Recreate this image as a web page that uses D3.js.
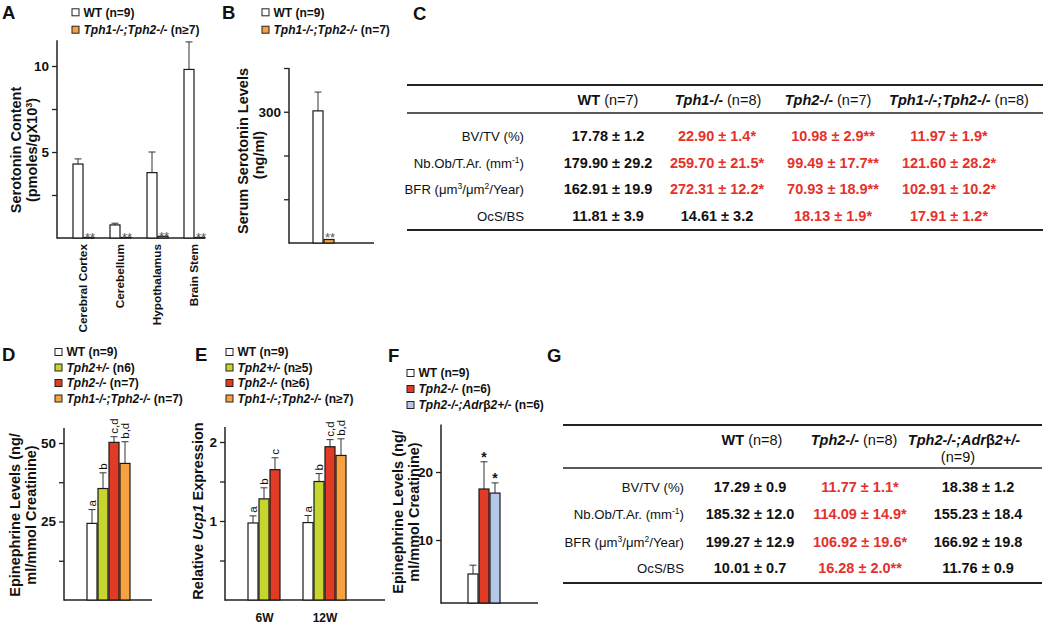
<!DOCTYPE html>
<html><head><meta charset="utf-8">
<script src="https://cdn.jsdelivr.net/npm/d3@7"></script>
<style>
body{margin:0;background:#fff}
svg{display:block}
text{font-family:"Liberation Sans",Arial,Helvetica,sans-serif;fill:#111}
</style>
</head><body>
<svg id="c" width="1050" height="631"></svg>
<script>
// ---------------- DATA ----------------
// Panel A
const regionsA = ["Cerebral Cortex","Cerebellum","Hypothalamus","Brain Stem"];
const seriesA = ["WT","Tph1-/-;Tph2-/-"];
const nA = ["(n=9)","(n≥7)"];
const serotoninWT = [4.3, 0.76, 3.8, 9.8];
const serotoninWTErr = [0.3, 0.1, 1.2, 1.6];
const serotoninKO = [0.03, 0.03, 0.1, 0.03];
const starsA = ["**","**","**","**"];
const ticksA = [2.5, 5, 7.5, 10];
const tickLabelsA = [5, 10];
// Panel B
const seriesB = ["WT","Tph1-/-;Tph2-/-"];
const nB = ["(n=9)","(n=7)"];
const serumValues = [302, 8];
const serumErr = [43, 0];
const starsB = ["","**"];
const ticksB = [100, 200, 300, 400];
const tickLabelsB = [300];
// Panel C table
const rowLabels = ["BV/TV (%)", "Nb.Ob/T.Ar. (mm{-1})", "BFR (μm{3}/μm{2}/Year)", "OcS/BS"];
const genotypesC = ["WT","Tph1-/-","Tph2-/-","Tph1-/-;Tph2-/-"];
const nC = ["(n=7)","(n=8)","(n=7)","(n=8)"];
const valuesC_WT   = ["17.78 ± 1.2","179.90 ± 29.2","162.91 ± 19.9","11.81 ± 3.9"];
const valuesC_Tph1 = ["22.90 ± 1.4*","259.70 ± 21.5*","272.31 ± 12.2*","14.61 ± 3.2"];
const valuesC_Tph2 = ["10.98 ± 2.9**","99.49 ± 17.7**","70.93 ± 18.9**","18.13 ± 1.9*"];
const valuesC_DKO  = ["11.97 ± 1.9*","121.60 ± 28.2*","102.91 ± 10.2*","17.91 ± 1.2*"];
// Panel D
const genotypesD = ["WT","Tph2+/-","Tph2-/-","Tph1-/-;Tph2-/-"];
const nD = ["(n=9)","(n6)","(n=7)","(n=7)"];
const epinephrineD = [24.4, 35.5, 50.2, 43.5];
const epinephrineDErr = [4.4, 5.0, 1.8, 6.9];
const lettersD = ["a","b","c,d","b,d"];
const ticksD = [12.5, 25, 37.5, 50];
const tickLabelsD = [25, 50];
// Panel E
const agesE = ["6W","12W"];
const genotypesE = ["WT","Tph2+/-","Tph2-/-","Tph1-/-;Tph2-/-"];
const nE = ["(n=9)","(n≥5)","(n≥6)","(n≥7)"];
const ucp1_6W = [0.975, 1.28, 1.65];
const ucp1_6WErr = [0.09, 0.14, 0.15];
const letters6W = ["a","b","c"];
const ucp1_12W = [0.98, 1.50, 1.94, 1.83];
const ucp1_12WErr = [0.09, 0.10, 0.09, 0.21];
const letters12W = ["a","b","c,d","b,d"];
const ticksE = [0.5, 1, 1.5, 2];
const tickLabelsE = [1, 2];
// Panel F
const genotypesF = ["WT","Tph2-/-","Tph2-/-;Adrβ2+/-"];
const nF = ["(n=9)","(n=6)","(n=6)"];
const epinephrineF = [5.0, 17.5, 16.9];
const epinephrineFErr = [1.3, 4.0, 1.5];
const starsF = ["","*","*"];
const ticksF = [10, 20];
const tickLabelsF = [10, 20];
// Panel G table
const genotypesG = ["WT","Tph2-/-","Tph2-/-;Adrβ2+/-"];
const nG = ["(n=8)","(n=8)","(n=9)"];
const valuesG_WT   = ["17.29 ± 0.9","185.32 ± 12.0","199.27 ± 12.9","10.01 ± 0.7"];
const valuesG_Tph2 = ["11.77 ± 1.1*","114.09 ± 14.9*","106.92 ± 19.6*","16.28 ± 2.0**"];
const valuesG_Adr  = ["18.38 ± 1.2","155.23 ± 18.4","166.92 ± 19.8","11.76 ± 0.9"];

// ---------------- STYLE ----------------
const colorOf = {
  "WT":"#ffffff",
  "Tph2+/-":"#c6d62f",
  "Tph2-/-":"#e13b25",
  "Tph1-/-;Tph2-/-":"#f6a241",
  "Tph2-/-;Adrβ2+/-":"#b3c8ea"
};
const RED_TXT = "#e5312b";
const FONT = '"Liberation Sans", Arial, Helvetica, sans-serif';
const svg = d3.select("#c");

function genoSpans(t, name, italic) {
  name.split(/(β)/).forEach(part => {
    if (!part) return;
    t.append("tspan").attr("font-style", (italic && part !== "β") ? "italic" : "normal").text(part);
  });
}
function panelLetter(txt, x, y) {
  svg.append("text").attr("x", x).attr("y", y).attr("font-size", 18.5).attr("font-weight", "bold").text(txt);
}
function legend(x, y0, step, genos, ns) {
  genos.forEach((g, i) => {
    const cy = y0 + i * step;
    svg.append("rect").attr("x", x).attr("y", cy - 3.5).attr("width", 7).attr("height", 7)
      .attr("fill", colorOf[g]).attr("stroke", "#222").attr("stroke-width", 1);
    const t = svg.append("text").attr("x", x + 11.5).attr("y", cy + 4.3).attr("font-size", 12).attr("font-weight", "bold");
    genoSpans(t, g, g !== "WT");
    t.append("tspan").attr("font-style", "normal").text(" " + ns[i]);
  });
}
function yAxis(x, y, topVal, base, ticks, labeled, xEnd) {
  const g = svg.append("g").attr("transform", `translate(${x},0)`).attr("font-family", FONT);
  g.call(d3.axisLeft(y).tickValues(ticks).tickSize(5).tickPadding(3)
    .tickFormat(d => labeled.includes(d) ? d3.format("d")(d) : ""));
  g.select(".domain").remove();
  g.selectAll(".tick line").attr("stroke", "#222").attr("stroke-width", 1.3);
  g.selectAll(".tick text").attr("font-size", 13.5).attr("font-weight", "bold").attr("fill", "#111");
  svg.append("line").attr("x1", x).attr("x2", x).attr("y1", y(topVal)).attr("y2", base + 0.7)
    .attr("stroke", "#222").attr("stroke-width", 1.5);
  svg.append("line").attr("x1", x).attr("x2", xEnd).attr("y1", base).attr("y2", base)
    .attr("stroke", "#222").attr("stroke-width", 1.5);
}
function drawBars(y, base, items) {
  items.forEach(d => {
    const cx = d.x + 5;
    if (d.err > 0) {
      const ey = y(d.v + d.err);
      svg.append("line").attr("x1", cx).attr("x2", cx).attr("y1", y(d.v)).attr("y2", ey).attr("stroke", "#333").attr("stroke-width", 1);
      svg.append("line").attr("x1", cx - 3.5).attr("x2", cx + 3.5).attr("y1", ey).attr("y2", ey).attr("stroke", "#333").attr("stroke-width", 1);
    }
    svg.append("rect").attr("x", d.x).attr("y", y(d.v)).attr("width", 10).attr("height", Math.max(0.5, base - y(d.v)))
      .attr("fill", colorOf[d.geno]).attr("stroke", "#1a1a1a").attr("stroke-width", 1.2);
    if (d.letter) {
      const ly = y(d.v + d.err) - 3;
      svg.append("text").attr("transform", `translate(${cx + 4},${ly}) rotate(-90)`)
        .attr("font-size", 11.5).attr("fill", "#222").text(d.letter);
    }
    if (d.star) {
      svg.append("text").attr("x", cx + 1).attr("y", d.starY).attr("text-anchor", "middle")
        .attr("font-size", 13).style("fill", "#555").text(d.star);
    }
  });
}
function rotLabel(x, cy, parts, size) {
  const t = svg.append("text").attr("transform", `translate(${x},${cy}) rotate(-90)`)
    .attr("text-anchor", "middle").attr("font-size", size || 14.5).attr("font-weight", "bold");
  parts.forEach(p => {
    const s = t.append("tspan").attr("font-style", p.i ? "italic" : "normal");
    if (p.sup) s.attr("font-size", 9).attr("dy", -5).text(p.t);
    else if (p.after) s.attr("dy", 5).text(p.t);
    else s.text(p.t);
  });
}
function richLabel(t, str) {
  const parts = str.split(/\{([^}]*)\}/);
  parts.forEach((p, k) => {
    if (p === "") return;
    if (k % 2 === 1) t.append("tspan").attr("font-size", 8.5).attr("dy", -5).text(p);
    else {
      const s = t.append("tspan").text(p);
      if (k > 0) s.attr("dy", 5);
    }
  });
}
function table(cfg) {
  cfg.rules.forEach((ry, i) => svg.append("line").attr("x1", cfg.x0).attr("x2", cfg.x1).attr("y1", ry).attr("y2", ry)
    .attr("stroke", "#222").attr("stroke-width", i === 1 ? 1.6 : 2.2));
  cfg.names.forEach((nm, j) => {
    const t = svg.append("text").attr("x", cfg.headerX[j]).attr("y", cfg.headerY).attr("text-anchor", "middle").attr("font-size", 14.5);
    const b = t.append("tspan").attr("font-weight", "bold");
    genoSpans(b, nm, nm !== "WT");
    if (cfg.wrap[j]) {
      svg.append("text").attr("x", cfg.wrapX[j]).attr("y", cfg.headerY2).attr("text-anchor", "middle").attr("font-size", 14.5).text(cfg.ns[j]);
    } else {
      t.append("tspan").attr("font-style", "normal").text(" " + cfg.ns[j]);
    }
  });
  cfg.rowLabels.forEach((lab, r) => {
    const t = svg.append("text").attr("x", cfg.labelX).attr("y", cfg.rowYs[r]).attr("text-anchor", "end").attr("font-size", 13.2);
    richLabel(t, lab);
  });
  cfg.values.forEach((col, j) => col.forEach((v, r) => {
    svg.append("text").attr("x", cfg.valueX[j]).attr("y", cfg.rowYs[r]).attr("text-anchor", "middle")
      .attr("font-size", 14.5).attr("font-weight", "bold").style("fill", v.includes("*") ? RED_TXT : "#111").text(v);
  }));
}

// ---------------- PANEL A ----------------
panelLetter("A", 2, 19);
legend(72, 12.3, 17.4, seriesA, nA);
{
  const base = 238;
  const y = d3.scaleLinear().domain([0, 10]).range([base, 66]);
  const xg = d3.scaleBand().domain(regionsA).range([73, 221]);
  const xs = d3.scaleBand().domain(seriesA).range([0, 22]);
  yAxis(57, y, 11.5, base, ticksA, tickLabelsA, 205);
  const items = [];
  regionsA.forEach((r, i) => {
    items.push({x: xg(r) + xs("WT"), geno: "WT", v: serotoninWT[i], err: serotoninWTErr[i]});
    items.push({x: xg(r) + xs(seriesA[1]), geno: seriesA[1], v: serotoninKO[i], err: 0, star: starsA[i], starY: y(serotoninKO[i]) + 5});
  });
  drawBars(y, base, items);
  regionsA.forEach(r => {
    svg.append("text").attr("transform", `translate(${xg(r) + 14},244) rotate(-90)`)
      .attr("text-anchor", "end").attr("font-size", 11.8).attr("font-weight", "bold").text(r);
  });
  rotLabel(21, 150, [{t: "Serotonin Content"}]);
  rotLabel(37, 150, [{t: "(pmoles/gX10"}, {t: "3", sup: true}, {t: ")", after: true}]);
}

// ---------------- PANEL B ----------------
panelLetter("B", 222, 19);
legend(262, 12.3, 17.4, seriesB, nB);
{
  const base = 243;
  const y = d3.scaleLinear().domain([0, 400]).range([base, 68]);
  const xs = d3.scaleBand().domain(seriesB).range([313, 335]);
  yAxis(289, y, 400, base, ticksB, tickLabelsB, 374);
  drawBars(y, base, seriesB.map((s, i) => ({x: xs(s), geno: s, v: serumValues[i], err: serumErr[i],
    star: starsB[i], starY: y(serumValues[i]) + 2})));
  rotLabel(248, 151, [{t: "Serum Serotonin Levels"}]);
  rotLabel(264, 155, [{t: "(ng/ml)"}]);
}

// ---------------- PANEL C ----------------
panelLetter("C", 413, 20);
table({
  x0: 407, x1: 1043, rules: [85, 113, 230], headerY: 105, labelX: 524,
  rowYs: [141, 168, 194, 221],
  headerX: [608, 718, 828, 959], valueX: [608, 717, 833, 949],
  names: genotypesC, ns: nC, wrap: [false, false, false, false],
  values: [valuesC_WT, valuesC_Tph1, valuesC_Tph2, valuesC_DKO], rowLabels: rowLabels
});

// ---------------- PANEL D ----------------
panelLetter("D", 2, 361);
legend(55, 352, 15.5, genotypesD, nD);
{
  const base = 600;
  const y = d3.scaleLinear().domain([0, 50]).range([base, 443]);
  const xs = d3.scaleBand().domain(genotypesD).range([87, 131]);
  yAxis(64, y, 54.8, base, ticksD, tickLabelsD, 152);
  drawBars(y, base, genotypesD.map((g, i) => ({x: xs(g), geno: g, v: epinephrineD[i], err: epinephrineDErr[i], letter: lettersD[i]})));
  rotLabel(20, 515, [{t: "Epinephrine Levels (ng/"}]);
  rotLabel(36, 515, [{t: "ml/mmol Creatinine)"}]);
}

// ---------------- PANEL E ----------------
panelLetter("E", 195, 361);
legend(226, 352, 15.5, genotypesE, nE);
{
  const base = 600;
  const y = d3.scaleLinear().domain([0, 2]).range([base, 442]);
  const xg = d3.scaleOrdinal().domain(agesE).range([248, 303]);
  const xs = d3.scaleBand().domain(genotypesE).range([0, 44]);
  yAxis(225, y, 2.19, base, ticksE, tickLabelsE, 385);
  const items = [];
  ucp1_6W.forEach((v, i) => items.push({x: xg("6W") + xs(genotypesE[i]), geno: genotypesE[i], v: v, err: ucp1_6WErr[i], letter: letters6W[i]}));
  ucp1_12W.forEach((v, i) => items.push({x: xg("12W") + xs(genotypesE[i]), geno: genotypesE[i], v: v, err: ucp1_12WErr[i], letter: letters12W[i]}));
  drawBars(y, base, items);
  agesE.forEach((a, k) => {
    const n = k === 0 ? ucp1_6W.length : ucp1_12W.length;
    svg.append("text").attr("x", xg(a) + n * 11 / 2).attr("y", 622).attr("text-anchor", "middle")
      .attr("font-size", 12).attr("font-weight", "bold").text(a);
  });
  rotLabel(203, 511, [{t: "Relative "}, {t: "Ucp1", i: true}, {t: " Expression"}]);
}

// ---------------- PANEL F ----------------
panelLetter("F", 388, 362);
legend(407, 373, 16, genotypesF, nF);
{
  const base = 603;
  const y = d3.scaleLinear().domain([0, 20]).range([608, 472]);
  const xs = d3.scaleBand().domain(genotypesF).range([468, 501]);
  yAxis(441, y, 27, base, ticksF, tickLabelsF, 538);
  genotypesF.forEach((g, i) => {
    const v = epinephrineF[i], e = epinephrineFErr[i];
    const x = xs(g), cx = x + 5, ey = y(v + e);
    svg.append("line").attr("x1", cx).attr("x2", cx).attr("y1", y(v)).attr("y2", ey).attr("stroke", "#333").attr("stroke-width", 1);
    svg.append("line").attr("x1", cx - 3.5).attr("x2", cx + 3.5).attr("y1", ey).attr("y2", ey).attr("stroke", "#333").attr("stroke-width", 1);
    svg.append("rect").attr("x", x).attr("y", y(v)).attr("width", 10).attr("height", base - y(v))
      .attr("fill", colorOf[g]).attr("stroke", "#1a1a1a").attr("stroke-width", 1.2);
    if (starsF[i]) svg.append("text").attr("x", cx).attr("y", ey + 0.5).attr("text-anchor", "middle")
      .attr("font-size", 14).attr("font-weight", "bold").text(starsF[i]);
  });
  rotLabel(403, 512, [{t: "Epinephrine Levels (ng/"}]);
  rotLabel(419, 512, [{t: "ml/mmol Creatinine)"}]);
}

// ---------------- PANEL G ----------------
panelLetter("G", 547, 362);
table({
  x0: 563, x1: 1042, rules: [425, 468, 583], headerY: 445, headerY2: 462, labelX: 684,
  rowYs: [492, 519, 547, 573],
  headerX: [752, 854, 964], valueX: [750, 860, 978], wrapX: [0, 0, 958],
  names: genotypesG, ns: nG, wrap: [false, false, true],
  values: [valuesG_WT, valuesG_Tph2, valuesG_Adr], rowLabels: rowLabels
});
</script>
</body></html>
